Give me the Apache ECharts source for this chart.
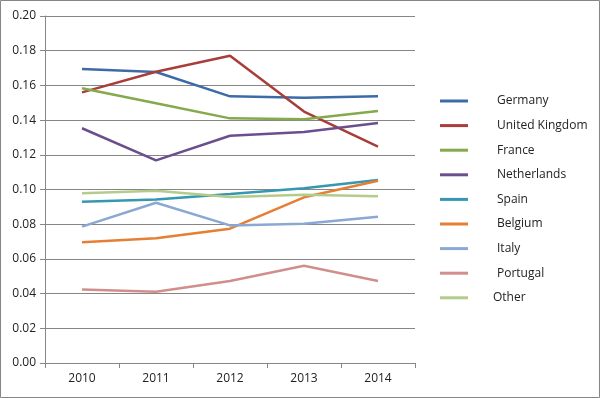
<!DOCTYPE html>
<html lang="en">
<head>
    <meta charset="UTF-8">
    <title>Share by country</title>
    <style>
        body { margin: 0; background: #fff; }
        #chart { width: 600px; height: 398px; }
    </style>
</head>
<body>
<div id="chart"></div>
<script src="https://cdn.jsdelivr.net/npm/echarts@6/dist/echarts.min.js"></script>
<script>
    // data
    const years = ['2010', '2011', '2012', '2013', '2014'];
    const countries = ['Germany', 'United Kingdom', 'France', 'Netherlands', 'Spain', 'Belgium', 'Italy', 'Portugal', 'Other'];
    const germany = [0.1695, 0.1677, 0.1537, 0.1529, 0.1537];
    const unitedKingdom = [0.1560, 0.1679, 0.1771, 0.1449, 0.1247];
    const france = [0.1583, 0.1497, 0.1410, 0.1405, 0.1452];
    const netherlands = [0.1353, 0.1168, 0.1310, 0.1331, 0.1383];
    const spain = [0.0930, 0.0943, 0.0974, 0.1007, 0.1055];
    const belgium = [0.0696, 0.0719, 0.0774, 0.0955, 0.1050];
    const italy = [0.0786, 0.0924, 0.0793, 0.0803, 0.0843];
    const portugal = [0.0423, 0.0411, 0.0473, 0.0561, 0.0473];
    const other = [0.0978, 0.0993, 0.0957, 0.0970, 0.0961];
    const seriesData = [germany, unitedKingdom, france, netherlands, spain, belgium, italy, portugal, other];
    const colors = ['#3C6BA8', '#A83D3A', '#85A94C', '#6B4E8E', '#3597B0', '#E57F34', '#8BA8D4', '#D28E8C', '#B3CC8C'];

    const chart = echarts.init(document.getElementById('chart'));
    const font = 'Open Sans, sans-serif';

    chart.setOption({
        animation: false,
        color: colors,
        textStyle: { fontFamily: font },
        graphic: [{
            type: 'rect',
            shape: { x: 0.5, y: 0.5, width: 599, height: 397 },
            style: { fill: 'none', stroke: '#868686', lineWidth: 1 }
        }],
        grid: { left: 45, right: 185, top: 16, bottom: 35 },
        legend: {
            orient: 'vertical',
            left: 435,
            top: 89,
            icon: 'rect',
            itemWidth: 28,
            itemHeight: 3,
            itemGap: 10.6,
            data: countries,
            formatter: function (name) {
                return name === 'Other' ? '{o|' + name + '}' : '{n|' + name + '}';
            },
            textStyle: {
                color: '#222',
                fontSize: 12,
                lineHeight: 14,
                rich: {
                    n: { padding: [0, 0, 0, 24], fontSize: 12, fontFamily: font, color: '#222' },
                    o: { padding: [0, 0, 0, 20], fontSize: 12, fontFamily: font, color: '#222' }
                }
            }
        },
        xAxis: {
            type: 'category',
            data: years,
            boundaryGap: true,
            axisLine: { lineStyle: { color: '#868686' } },
            axisTick: { show: true, length: 5, lineStyle: { color: '#868686' } },
            axisLabel: { color: '#222', fontSize: 12, margin: 10 }
        },
        yAxis: {
            type: 'value',
            min: 0,
            max: 0.2,
            interval: 0.02,
            axisLine: { show: true, lineStyle: { color: '#868686' } },
            axisTick: { show: true, length: 5, lineStyle: { color: '#868686' } },
            axisLabel: {
                color: '#222',
                fontSize: 12,
                margin: 9,
                formatter: function (v) { return v.toFixed(2); }
            },
            splitLine: { lineStyle: { color: '#868686' } }
        },
        series: countries.map(function (name, i) {
            return {
                name: name,
                type: 'line',
                data: seriesData[i],
                showSymbol: false,
                lineStyle: { width: 2.5 }
            };
        })
    });
</script>
</body>
</html>
